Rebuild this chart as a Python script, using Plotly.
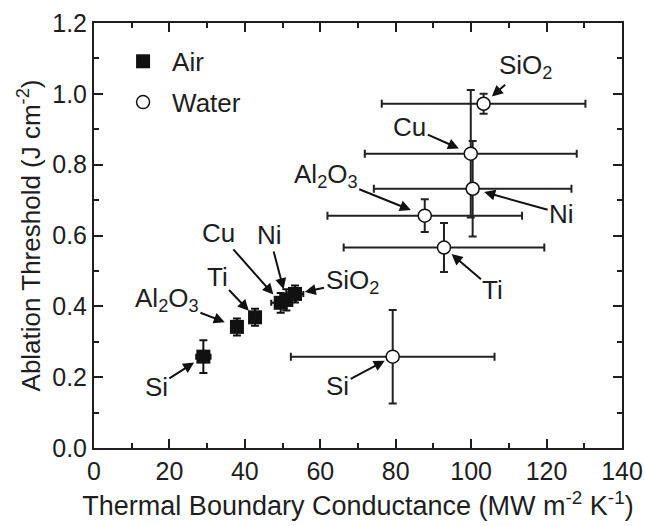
import plotly.graph_objects as go

# ---- data ----
materials = ["Si", "Al<sub>2</sub>O<sub>3</sub>", "Ti", "Cu", "Ni", "SiO<sub>2</sub>"]

air_x = [29.0, 37.9, 42.7, 49.5, 51.0, 53.3]
air_y = [0.258, 0.342, 0.369, 0.410, 0.418, 0.435]
air_xerr = [1.9, 1.0, 1.0, 2.5, 2.5, 2.2]
air_yerr = [0.046, 0.024, 0.024, 0.028, 0.030, 0.024]

water_x = [79.2, 87.7, 92.8, 99.9, 100.4, 103.3]
water_y = [0.258, 0.656, 0.566, 0.831, 0.732, 0.972]
water_xerr = [27.0, 25.8, 26.6, 28.1, 26.2, 27.0]
water_yerr = [0.132, 0.046, 0.069, 0.180, 0.135, 0.028]

# label offsets (pixels) and standoffs
air_lab = [(-47, 30, 11), (-70, -27, 13), (-38, -40, 9), (-62, -70, 11), (-17, -65, 11), (57, -12, 10)]
water_lab = [(-55, 29, 9), (-99, -40, 15), (49, 42, 10), (-61, -27, 13), (89, 25, 12), (42, -37, 11)]

FONT = "Arial, Liberation Sans, Helvetica, sans-serif"
INK = "#1e1e1e"

fig = go.Figure()
fig.add_trace(go.Scatter(
    x=air_x, y=air_y, mode="markers", name="Air", legendgroup="a",
    marker=dict(symbol="square", size=14, color="#111111", line=dict(width=0)),
    error_x=dict(type="data", array=air_xerr, color="#111111", thickness=2, width=3),
    error_y=dict(type="data", array=air_yerr, color="#111111", thickness=2, width=4),
))
fig.add_trace(go.Scatter(
    x=water_x, y=water_y, mode="markers", name="Water", legendgroup="w",
    marker=dict(symbol="circle", size=13, color="white", line=dict(width=1.5, color="#111111")),
    error_x=dict(type="data", array=water_xerr, color="#222222", thickness=2, width=4),
    error_y=dict(type="data", array=water_yerr, color="#222222", thickness=2, width=4),
))

ann = []
for xs, ys, labs in ((air_x, air_y, air_lab), (water_x, water_y, water_lab)):
    for name, xv, yv, (dx, dy, so) in zip(materials, xs, ys, labs):
        ann.append(dict(x=xv, y=yv, xref="x", yref="y", text=name, showarrow=True,
                        ax=dx, ay=dy, standoff=so, arrowhead=2, arrowsize=1.1,
                        arrowwidth=2, arrowcolor="#111111",
                        font=dict(family=FONT, size=26, color=INK)))

axis_common = dict(showline=True, linewidth=2, linecolor=INK, mirror="allticks",
                   ticks="inside", ticklen=9, tickwidth=2, tickcolor=INK,
                   showgrid=False, zeroline=False, automargin=False,
                   tickfont=dict(family=FONT, size=25, color=INK))

fig.update_layout(
    width=645, height=526,
    margin=dict(l=94, r=23, t=23, b=78),
    paper_bgcolor="white", plot_bgcolor="white",
    font=dict(family=FONT, color=INK),
    xaxis=dict(range=[0, 140], dtick=20, tick0=0,
               minor=dict(dtick=10, ticks="inside", ticklen=5, tickwidth=2, tickcolor=INK),
               title=dict(text="Thermal Boundary Conductance (MW m<sup>-2</sup> K<sup>-1</sup>)",
                          font=dict(family=FONT, size=27, color=INK), standoff=12),
               **axis_common),
    yaxis=dict(range=[0, 1.2], dtick=0.2, tick0=0, tickformat=".1f",
               minor=dict(dtick=0.1, ticks="inside", ticklen=5, tickwidth=2, tickcolor=INK),
               title=dict(text="Ablation Threshold (J cm<sup>-2</sup>)",
                          font=dict(family=FONT, size=26, color=INK), standoff=4),
               **axis_common),
    showlegend=True,
    legend=dict(x=0.038, y=0.965, xanchor="left", yanchor="top", bgcolor="rgba(0,0,0,0)",
                font=dict(family=FONT, size=26, color=INK), tracegroupgap=4,
                itemwidth=48),
    annotations=ann,
)

fig.write_html("out.html")
